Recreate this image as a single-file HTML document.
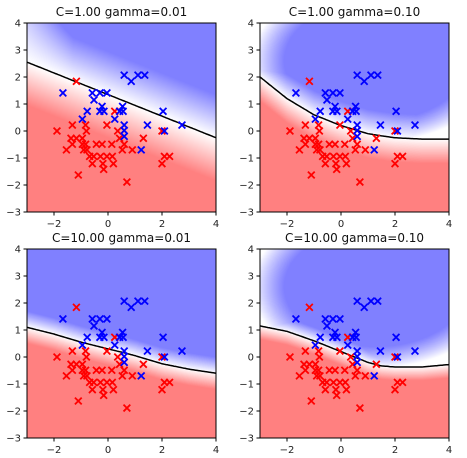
<!DOCTYPE html>
<html><head><meta charset="utf-8"><style>
body{margin:0;background:#fff;width:467px;height:458px;overflow:hidden;position:relative;font-family:"DejaVu Sans","Liberation Sans",sans-serif}
canvas{position:absolute}
svg{position:absolute;left:0;top:0}
</style></head><body>
<canvas id="c0" width="189" height="189" style="left:27px;top:23px"></canvas>
<canvas id="c1" width="189" height="189" style="left:260px;top:23px"></canvas>
<canvas id="c2" width="189" height="189" style="left:27px;top:249px"></canvas>
<canvas id="c3" width="189" height="189" style="left:260px;top:249px"></canvas>
<svg id="s" width="467" height="458"></svg>
<script>
const blueX=[0.60,0.86,1.11,1.36,-1.67,-0.58,-0.30,-0.04,-0.52,-0.22,-0.30,-0.15,-0.77,-0.95,0.25,0.43,0.54,0.56,0.60,0.60,0.60,1.46,1.23,2.04,2.09,2.74];
const blueY=[2.07,1.84,2.07,2.07,1.41,1.41,1.41,1.41,1.15,0.91,0.73,0.73,0.73,0.44,0.44,0.73,0.91,0.73,0.22,0.02,-0.20,0.22,-0.70,0.73,0.00,0.22];
const redX=[-1.17,0.25,-1.89,-1.32,-0.83,-0.80,-0.04,0.36,0.43,0.60,1.31,2.00,-1.37,-1.17,-0.95,-1.32,-1.54,-0.95,-0.83,-0.90,-0.78,-0.68,-0.53,-0.28,-0.04,0.16,-0.43,-0.22,0.14,-0.58,-0.19,-0.16,0.20,0.53,0.90,-1.10,0.70,2.00,2.09,2.28];
const redY=[1.84,0.73,0.00,0.22,0.22,0.00,0.22,0.00,-0.27,-0.49,-0.27,0.00,-0.27,-0.27,-0.27,-0.49,-0.70,-0.49,-0.49,-0.70,-0.70,-0.94,-0.94,-0.94,-0.94,-0.94,-0.49,-0.49,-0.49,-1.21,-1.21,-1.42,-1.21,-0.70,-0.70,-1.63,-1.89,-1.21,-0.94,-0.94];
const titles=["C=1.00 gamma=0.01","C=1.00 gamma=0.10","C=10.00 gamma=0.01","C=10.00 gamma=0.10"];
const bX=[-3,-2,-1,0,0.5,1,1.5,2,3,4];
const bTL=[2.55,2.15,1.75,1.35,1.15,0.95,0.75,0.55,0.15,-0.25];
const bTR=[2.0,1.2,0.6,0.2,0.05,-0.1,-0.18,-0.25,-0.3,-0.3];
const bBL=[1.1,0.85,0.55,0.3,0.18,0.05,-0.1,-0.25,-0.45,-0.6];
const bBR=[1.15,0.95,0.6,0.2,0.0,-0.2,-0.33,-0.37,-0.37,-0.28];
const xTicks=[-2,0,2,4], yTicks=[-3,-2,-1,0,1,2,3,4];
const panels=[{l:27,t:23,b:bTL,w:1.6,blob:false},{l:260,t:23,b:bTR,w:0.9,blob:true},{l:27,t:249,b:bBL,w:0.6,blob:false},{l:260,t:249,b:bBR,w:0.5,blob:true}];
const S=189/7;
function interp(arr,x){for(let i=0;i<bX.length-1;i++){if(x<=bX[i+1]){const f=(x-bX[i])/(bX[i+1]-bX[i]);return arr[i]+f*(arr[i+1]-arr[i]);}}return arr[arr.length-1];}
const NS="http://www.w3.org/2000/svg",svg=document.getElementById('s');
function mk(tag,at,par){const e=document.createElementNS(NS,tag);for(const k in at)e.setAttribute(k,at[k]);(par||svg).appendChild(e);return e;}
panels.forEach((p,pi)=>{
 const cv=document.getElementById('c'+pi),ctx=cv.getContext('2d'),im=ctx.createImageData(189,189);
 for(let j=0;j<189;j++)for(let i=0;i<189;i++){
  const x=-3+(i+0.5)/S,y=4-(j+0.5)/S;
  let v=(y-interp(p.b,x))/p.w;
  if(pi===0&&v>0){v*=Math.min(1,0.4+0.35*(x+3));}
  if(p.blob&&v>0){const q=1-((x-1.3)/4.6)**2-((y-2.6)/3.0)**2;v=Math.min(v,Math.max(0,q*2.2));}
  v=Math.max(-1,Math.min(1,v));
  let r,g,b;
  if(v>=0){r=255-127*v;g=255-127*v;b=255;}else{r=255;g=255+127*v;b=255+127*v;}
  const k=(j*189+i)*4;im.data[k]=r;im.data[k+1]=g;im.data[k+2]=b;im.data[k+3]=255;}
 ctx.putImageData(im,0,0);
 const g=mk('g',{});
 
 
 const px=x=>p.l+(x+3)*S, py=y=>p.t+(4-y)*S;
 let d='';for(let x=-3;x<=4.001;x+=0.05){d+=(d?'L':'M')+px(x).toFixed(1)+' '+py(interp(p.b,x)).toFixed(1);}
 const bl=mk('path',{d:d,stroke:'#000','stroke-width':1.5,fill:'none'},g);
 
 
 function cross(x,y,c,n){const cx=px(x),cy=py(y),s=3.4;const e=mk('path',{d:`M${cx-s} ${cy-s}L${cx+s} ${cy+s}M${cx-s} ${cy+s}L${cx+s} ${cy-s}`,stroke:c,'stroke-width':1.8},g);
  
  }
 redX.forEach((x,i)=>cross(x,redY[i],'#ff0000','red-point'));
 blueX.forEach((x,i)=>cross(x,blueY[i],'#0000ff','blue-point'));
 const fr=mk('rect',{x:p.l,y:p.t,width:189,height:189,fill:'none',stroke:'#000','stroke-width':1},g);
 
 
 xTicks.forEach(t=>{const X=px(t);mk('line',{x1:X,x2:X,y1:p.t+189,y2:p.t+192.5,stroke:'#000'},g);
  const tx=mk('text',{x:X,y:p.t+204,'font-size':10,'text-anchor':'middle',fill:'#222'},g);tx.textContent=(t<0?'\u2212'+(-t):t);
  
  });
 yTicks.forEach(t=>{const Y=py(t);mk('line',{x1:p.l-3.5,x2:p.l,y1:Y,y2:Y,stroke:'#000'},g);
  const tx=mk('text',{x:p.l-6,y:Y+3.6,'font-size':10,'text-anchor':'end',fill:'#222'},g);tx.textContent=(t<0?'\u2212'+(-t):t);
  
  });
 const ti=mk('text',{x:p.l+94.5,y:p.t-7,'font-size':12,'text-anchor':'middle',fill:'#111'},g);ti.textContent=titles[pi];
 
 
});
</script>
</body></html>
